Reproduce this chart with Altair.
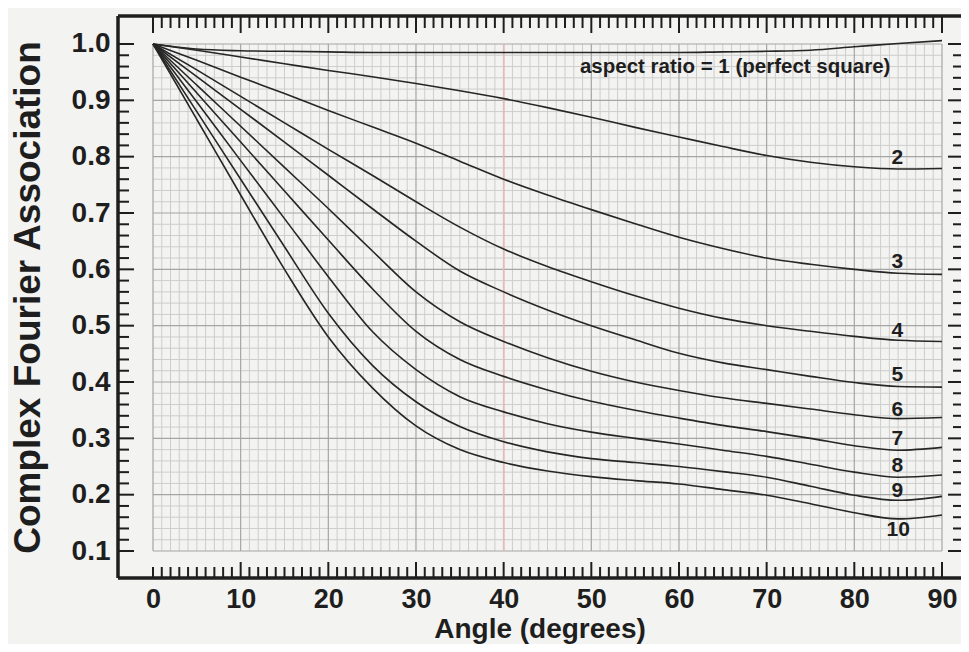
import altair as alt
import pandas as pd

# ---------------- data ----------------
ANGLES = [0, 5, 10, 15, 20, 25, 30, 35, 40, 45, 50, 55, 60, 65, 70, 75, 80, 85, 90]

RATIO_1 = [1.000, 0.991, 0.988, 0.987, 0.986, 0.985, 0.985, 0.985, 0.985, 0.985, 0.985, 0.985, 0.985, 0.986, 0.987, 0.989, 0.995, 1.001, 1.006]
RATIO_2 = [1.000, 0.989, 0.977, 0.965, 0.953, 0.942, 0.930, 0.917, 0.903, 0.887, 0.870, 0.852, 0.835, 0.818, 0.802, 0.790, 0.782, 0.778, 0.779]
RATIO_3 = [1.000, 0.971, 0.941, 0.912, 0.882, 0.853, 0.824, 0.792, 0.760, 0.732, 0.706, 0.681, 0.657, 0.637, 0.620, 0.609, 0.600, 0.593, 0.591]
RATIO_4 = [1.000, 0.954, 0.907, 0.860, 0.813, 0.767, 0.720, 0.675, 0.636, 0.605, 0.578, 0.553, 0.531, 0.513, 0.500, 0.490, 0.481, 0.474, 0.472]
RATIO_5 = [1.000, 0.942, 0.884, 0.826, 0.767, 0.708, 0.650, 0.597, 0.560, 0.528, 0.500, 0.475, 0.451, 0.434, 0.422, 0.410, 0.399, 0.392, 0.391]
RATIO_6 = [1.000, 0.927, 0.854, 0.781, 0.708, 0.633, 0.560, 0.507, 0.472, 0.443, 0.419, 0.400, 0.385, 0.372, 0.362, 0.352, 0.342, 0.335, 0.337]
RATIO_7 = [1.000, 0.913, 0.826, 0.739, 0.652, 0.566, 0.490, 0.440, 0.410, 0.386, 0.366, 0.350, 0.336, 0.323, 0.312, 0.300, 0.287, 0.279, 0.284]
RATIO_8 = [1.000, 0.897, 0.793, 0.690, 0.587, 0.490, 0.422, 0.374, 0.347, 0.326, 0.311, 0.300, 0.290, 0.279, 0.268, 0.254, 0.240, 0.231, 0.235]
RATIO_9 = [1.000, 0.880, 0.760, 0.640, 0.522, 0.430, 0.365, 0.321, 0.294, 0.276, 0.264, 0.257, 0.250, 0.241, 0.231, 0.215, 0.199, 0.190, 0.197]
RATIO_10 = [1.000, 0.866, 0.732, 0.600, 0.480, 0.390, 0.322, 0.280, 0.257, 0.242, 0.232, 0.225, 0.219, 0.209, 0.199, 0.184, 0.168, 0.157, 0.164]

SERIES = {
    "1": RATIO_1, "2": RATIO_2, "3": RATIO_3, "4": RATIO_4, "5": RATIO_5,
    "6": RATIO_6, "7": RATIO_7, "8": RATIO_8, "9": RATIO_9, "10": RATIO_10,
}

CURVE_LABELS = ["2", "3", "4", "5", "6", "7", "8", "9", "10"]
CURVE_LABEL_X = [84.9, 84.9, 84.9, 84.9, 84.9, 84.9, 84.9, 84.9, 85.0]
CURVE_LABEL_Y = [0.797, 0.613, 0.490, 0.4125, 0.351, 0.298, 0.251, 0.207, 0.137]

NOTE_TEXT = ["aspect ratio = 1 (perfect square)"]
NOTE_X = [48.7]
NOTE_Y = [0.960]

X_LABELS = [0, 10, 20, 30, 40, 50, 60, 70, 80, 90]
Y_LABELS = [0.1, 0.2, 0.3, 0.4, 0.5, 0.6, 0.7, 0.8, 0.9, 1.0]
X_TITLE = "Angle (degrees)"
Y_TITLE = "Complex Fourier Association"

# ---------------- layout ----------------
W, H = 843, 562
FONT = "Liberation Sans"
INK = "#1e1e1e"
BG = "#f3f3f1"

xs = alt.Scale(domain=[-3.992, 92.17], nice=False, zero=False)
ys = alt.Scale(domain=[0.0521, 1.0497], nice=False, zero=False)

xaxis = alt.Axis(values=X_LABELS, title=X_TITLE, ticks=False, tickSize=0, domain=False,
                 grid=False, labelFont=FONT, labelFontSize=27, labelFontWeight="bold",
                 labelColor=INK, labelPadding=8, titleFont=FONT, titleFontSize=28,
                 titleFontWeight="bold", titleColor=INK, titlePadding=3.3, format="d")
yaxis = alt.Axis(values=Y_LABELS, title=Y_TITLE, ticks=False, tickSize=0, domain=False,
                 grid=False, labelFont=FONT, labelFontSize=28, labelFontWeight="bold",
                 labelColor=INK, labelPadding=8, titleFont=FONT, titleFontSize=37,
                 titleFontWeight="bold", titleColor=INK, titlePadding=24, format=".1f")

rows = []
for name, vals in SERIES.items():
    for a, v in zip(ANGLES, vals):
        rows.append({"deg": a, "val": v, "ratio": name})
curves_df = pd.DataFrame(rows)

deg_all = list(range(0, 91))
deg_minor = [d for d in deg_all if d % 10]
deg_major = [d for d in deg_all if d % 10 == 0]
val_all = [round(0.1 + 0.02 * i, 2) for i in range(46)]
val_major = [v for i, v in enumerate(val_all) if i % 5 == 0]
val_minor = [v for i, v in enumerate(val_all) if i % 5]


def X():
    return alt.X("deg", type="quantitative", scale=xs, axis=xaxis)


def Y():
    return alt.Y("val", type="quantitative", scale=ys, axis=yaxis)


def vgrid(degs, color, width):
    df = pd.DataFrame({"deg": degs, "val": [0.1] * len(degs), "val2": [1.0] * len(degs)})
    return alt.Chart(df).mark_rule(color=color, strokeWidth=width).encode(
        x=X(), y=Y(), y2=alt.Y2("val2"))


def hgrid(vals, color, width):
    df = pd.DataFrame({"val": vals, "deg": [0] * len(vals), "deg2": [90] * len(vals)})
    return alt.Chart(df).mark_rule(color=color, strokeWidth=width).encode(
        y=Y(), x=X(), x2=alt.X2("deg2"))


grid = [
    vgrid(deg_minor, "#cdcdcd", 1),
    hgrid(val_minor, "#cdcdcd", 1),
    vgrid(deg_major, "#a5a5a5", 1.2),
    hgrid(val_major, "#a5a5a5", 1.2),
    vgrid([40], "#e7b9b9", 1.6),
]

curves = alt.Chart(curves_df).mark_line(color="#262626", strokeWidth=1.6,
                                        interpolate="monotone").encode(
    x=X(), y=Y(), detail="ratio:N",
)

lab_df = pd.DataFrame({"deg": CURVE_LABEL_X, "val": CURVE_LABEL_Y, "t": CURVE_LABELS})
labels = alt.Chart(lab_df).mark_text(font=FONT, fontSize=21, fontWeight="bold",
                                     color=INK, align="center", baseline="middle").encode(
    x=X(), y=Y(), text="t:N")

note_df = pd.DataFrame({"deg": NOTE_X, "val": NOTE_Y, "t": NOTE_TEXT})
note = alt.Chart(note_df).mark_text(font=FONT, fontSize=20.5, fontWeight="bold",
                                    color=INK, align="left", baseline="middle").encode(
    x=X(), y=Y(), text="t:N")


# tick marks along the frame (pointing inward)
def xticks(degs, y0, y1):
    df = pd.DataFrame({"deg": degs})
    return alt.Chart(df).mark_rule(color=INK, strokeWidth=2).encode(
        x=X(), y=alt.value(y0), y2=alt.value(y1))


def yticks(vals, x0, x1):
    df = pd.DataFrame({"val": vals})
    return alt.Chart(df).mark_rule(color=INK, strokeWidth=2).encode(
        y=Y(), x=alt.value(x0), x2=alt.value(x1))


ticks = [
    xticks([d for d in deg_all if d % 10 or d == 0], H, H - 11),
    xticks([d for d in deg_all if d % 10 == 0 and d > 0], H, H - 16),
    xticks(deg_minor, 0, 12),
    xticks(deg_major, 0, 17),
    yticks(val_minor, 0, 11),
    yticks(val_major, 0, 16),
    yticks(val_minor, W - 8, W),
    yticks(val_major, W - 13, W),
]

one = pd.DataFrame({"k": [0]})
frame = [
    alt.Chart(one).mark_rule(color=INK, strokeWidth=3.5).encode(
        x=alt.value(0), y=alt.value(0), y2=alt.value(H)),
    alt.Chart(one).mark_rule(color=INK, strokeWidth=3.5).encode(
        x=alt.value(0), x2=alt.value(W), y=alt.value(0)),
    alt.Chart(one).mark_rule(color=INK, strokeWidth=3.5).encode(
        x=alt.value(0), x2=alt.value(W), y=alt.value(H)),
]

chart = alt.layer(*grid, curves, labels, note, *ticks, *frame).properties(
    width=W, height=H,
    autosize=alt.AutoSizeParams(type="none"),
    padding={"left": 110, "top": 8, "right": 0, "bottom": 66},
    background=BG,
).configure_view(stroke=None)

chart.save("out.html", embed_options={"renderer": "svg", "actions": False})
